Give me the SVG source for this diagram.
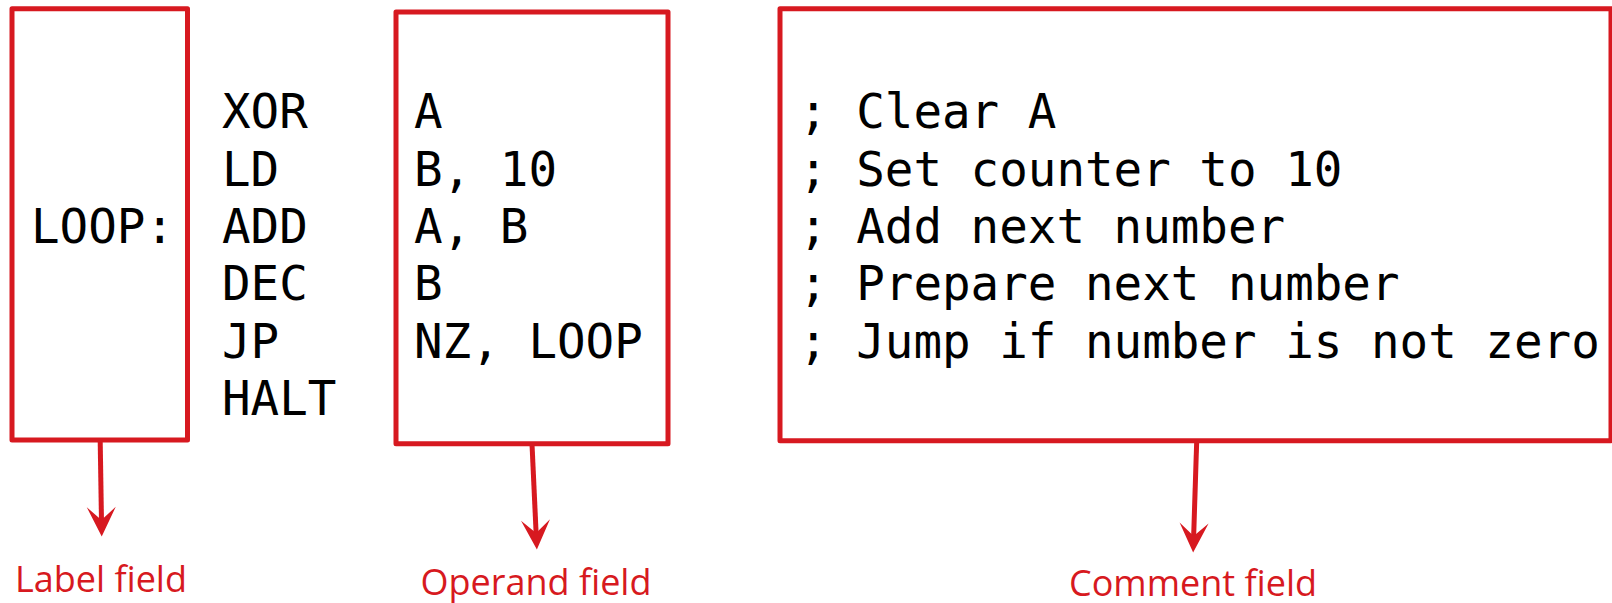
<svg xmlns="http://www.w3.org/2000/svg" width="1612" height="603" viewBox="0 0 1612 603">
  <style>
    .field { fill: none; stroke: #d71920; stroke-width: 5; stroke-linejoin: round; }
    .code { font-family: "DejaVu Sans Mono", "Liberation Mono", monospace; font-size: 47.5px; fill: #000; }
    .caption { font-family: "Open Sans", "Noto Sans", sans-serif; font-size: 36px; fill: #d71920; text-anchor: middle; }
    .pointer { stroke: #d71920; stroke-width: 5; fill: none; marker-end: url(#head); }
  </style>
  <defs>
    <marker id="head" markerUnits="userSpaceOnUse" viewBox="-16 -15 31 30" refX="0" refY="0" markerWidth="31" markerHeight="30" orient="auto">
      <path d="M14.5,0 L-15,-14.5 L-2,0 L-15,14.5 Z" fill="#d71920"/>
    </marker>
  </defs>

  <!-- label column -->
  <g id="label-field">
    <rect class="field" x="12" y="8.7" width="175.5" height="431.3"/>
    <text class="code" x="31" y="242.9">LOOP:</text>
  </g>

  <!-- mnemonic column (no frame) -->
  <g id="mnemonics">
    <text class="code" x="222" y="128.3">XOR</text>
    <text class="code" x="222" y="185.6">LD</text>
    <text class="code" x="222" y="242.9">ADD</text>
    <text class="code" x="222" y="300.2">DEC</text>
    <text class="code" x="222" y="357.5">JP</text>
    <text class="code" x="222" y="414.8">HALT</text>
  </g>

  <!-- operand column -->
  <g id="operand-field">
    <rect class="field" x="396" y="12" width="272" height="431.7"/>
    <text class="code" x="414" y="128.3">A</text>
    <text class="code" x="414" y="185.6">B, 10</text>
    <text class="code" x="414" y="242.9">A, B</text>
    <text class="code" x="414" y="300.2">B</text>
    <text class="code" x="414" y="357.5">NZ, LOOP</text>
  </g>

  <!-- comment column -->
  <g id="comment-field">
    <rect class="field" x="780" y="8.7" width="831" height="432"/>
    <text class="code" x="799" y="128.3">; Clear A</text>
    <text class="code" x="799" y="185.6">; Set counter to 10</text>
    <text class="code" x="799" y="242.9">; Add next number</text>
    <text class="code" x="799" y="300.2">; Prepare next number</text>
    <text class="code" x="799" y="357.5">; Jump if number is not zero</text>
  </g>

  <!-- pointers from each column to its caption -->
  <g id="connectors">
    <line class="pointer" x1="100.2" y1="441" x2="101.5" y2="522"/>
    <line class="pointer" x1="532" y1="444" x2="536.2" y2="535"/>
    <line class="pointer" x1="1196.7" y1="441" x2="1193.6" y2="538"/>
  </g>

  <g id="caption-label"><text class="caption" x="101" y="592">Label field</text></g>
  <g id="caption-operand"><text class="caption" x="536" y="594.5">Operand field</text></g>
  <g id="caption-comment"><text class="caption" x="1193" y="595.5">Comment field</text></g>
</svg>
